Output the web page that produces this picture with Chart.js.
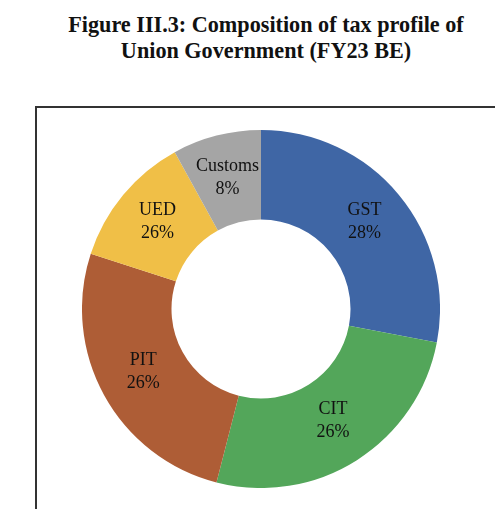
<!DOCTYPE html>
<html>
<head>
<meta charset="utf-8">
<script src="https://cdn.jsdelivr.net/npm/chart.js@4"></script>
<style>
  html, body { margin: 0; padding: 0; background: #fff; overflow: hidden; }
  body { width: 495px; height: 509px; position: relative; }
  #title {
    position: absolute; left: 16px; top: 12px; width: 500px;
    text-align: center; font-family: "Liberation Serif", "DejaVu Serif", serif;
    font-weight: bold; font-size: 22.2px; line-height: 26px; color: #111;
  }
  #frame {
    position: absolute; left: 35px; top: 106px; width: 500px; height: 450px;
    border: 2px solid #333; box-sizing: border-box;
  }
  #wrap { position: absolute; left: 82px; top: 130px; width: 358px; height: 358px; }
</style>
</head>
<body>
<div id="title">Figure III.3: Composition of tax profile of<br>Union Government (FY23 BE)</div>
<div id="frame"></div>
<div id="wrap"><canvas id="grafico"></canvas></div>
<script>
const categorias = ['GST', 'CIT', 'PIT', 'UED', 'Customs'];
const valores = [28, 26, 26, 12, 8];
// texto dos rótulos como aparece na figura original
const rotulos = ['28%', '26%', '26%', '26%', '8%'];
const cores = ['#3F66A5', '#53A65A', '#AE5D36', '#F0BF47', '#A5A5A5'];

const ctx = document.getElementById('grafico');

// Rótulos dentro das fatias
const rotulosPlugin = {
    id: 'rotulos',
    afterDatasetsDraw(chart) {
        const c = chart.ctx;
        const meta = chart.getDatasetMeta(0);
        c.save();
        c.font = '18px "Liberation Serif", serif';
        c.fillStyle = '#111';
        c.textAlign = 'center';
        c.textBaseline = 'middle';
        meta.data.forEach((arc, i) => {
            const p = arc.tooltipPosition();
            c.fillText(categorias[i], p.x, p.y - 13);
            c.fillText(rotulos[i], p.x, p.y + 10);
        });
        c.restore();
    }
};

new Chart(ctx, {
    type: 'doughnut',
    data: {
        labels: categorias,
        datasets: [{
            data: valores,
            backgroundColor: cores,
            borderWidth: 0,
            hoverOffset: 0
        }]
    },
    options: {
        responsive: true,
        maintainAspectRatio: false,
        animation: false,
        cutout: '50%',
        layout: { padding: 0 },
        plugins: {
            legend: { display: false },
            tooltip: { enabled: false }
        }
    },
    plugins: [rotulosPlugin]
});
</script>
</body>
</html>
